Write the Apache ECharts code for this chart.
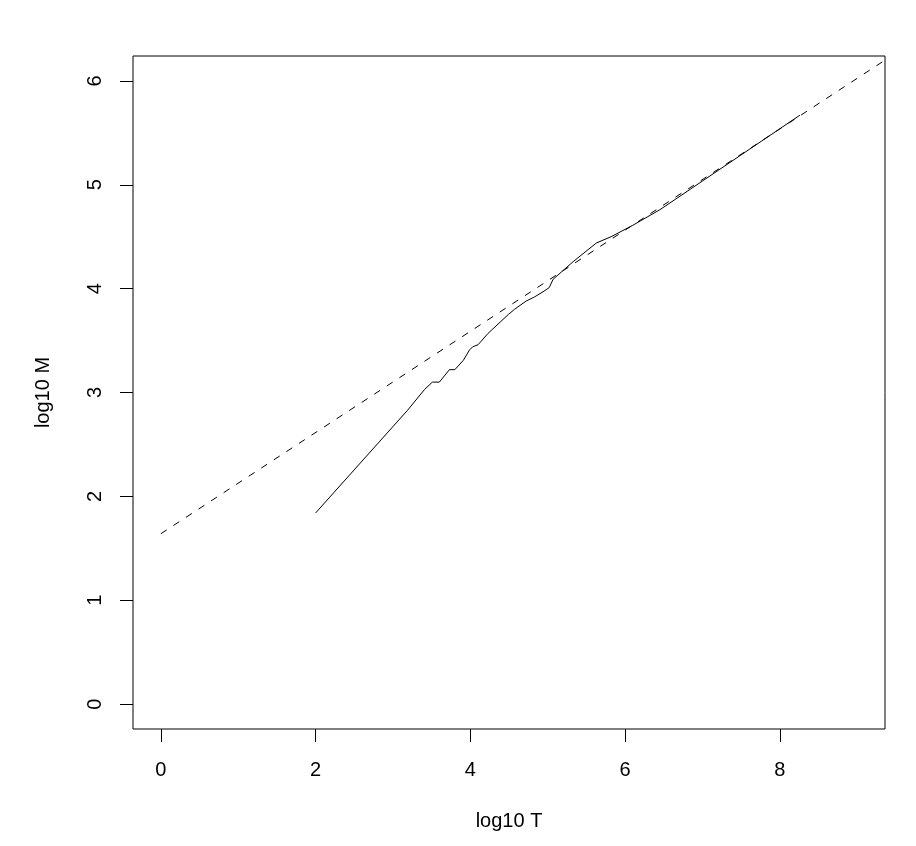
<!DOCTYPE html>
<html>
<head>
<meta charset="utf-8">
<script src="https://cdn.jsdelivr.net/npm/echarts@6/dist/echarts.min.js"></script>
<style>html,body{margin:0;padding:0;background:#fff;}#c{width:916px;height:846px;}</style>
</head>
<body>
<div id="c"></div>
<script>
// Observed curve: log10 T vs log10 M
var logT = [2.0, 3.19, 3.41, 3.51, 3.60, 3.73, 3.80, 3.91, 3.99, 4.03, 4.10, 4.23, 4.49, 4.57, 4.72, 4.83, 4.94, 5.02, 5.07, 5.33, 5.63, 5.82, 6.10, 6.45, 6.71, 8.26];
var logM = [1.84, 2.83, 3.03, 3.10, 3.10, 3.22, 3.22, 3.31, 3.41, 3.44, 3.46, 3.57, 3.75, 3.80, 3.88, 3.92, 3.97, 4.01, 4.09, 4.26, 4.44, 4.50, 4.61, 4.76, 4.89, 5.67];
// Reference (dashed) line endpoints
var refT = [0, 9.36];
var refM = [1.64, 6.20];
// Tick labels
var xTicks = [0, 2, 4, 6, 8];
var yTicks = [0, 1, 2, 3, 4, 5, 6];

var font = 'Liberation Sans, Arial, sans-serif';
var fs = 20;
var chart = echarts.init(document.getElementById('c'), null, {renderer: 'canvas'});
chart.setOption({
  animation: false,
  backgroundColor: '#fff',
  grid: {left: 133, top: 56, width: 752, height: 673, show: true, borderColor: '#000', borderWidth: 1, backgroundColor: 'transparent'},
  xAxis: {
    type: 'value', min: -0.36, max: 9.36,
    name: 'log10 T', nameLocation: 'middle', nameGap: 82,
    nameTextStyle: {color: '#000', fontFamily: font, fontSize: fs},
    axisLine: {show: false, onZero: false},
    splitLine: {show: false},
    axisTick: {show: true, inside: false, length: 13, customValues: xTicks, lineStyle: {color: '#000', width: 1}},
    axisLabel: {customValues: xTicks, margin: 31, color: '#000', fontFamily: font, fontSize: fs}
  },
  yAxis: {
    type: 'value', min: -0.24, max: 6.24,
    name: 'log10 M', nameLocation: 'middle', nameGap: 80,
    nameTextStyle: {color: '#000', fontFamily: font, fontSize: fs},
    axisLine: {show: false, onZero: false},
    splitLine: {show: false},
    axisTick: {show: true, inside: false, length: 13, customValues: yTicks, lineStyle: {color: '#000', width: 1}},
    axisLabel: {customValues: yTicks, margin: 28, rotate: 90, color: '#000', fontFamily: font, fontSize: fs}
  },
  series: [
    {
      type: 'line', symbol: 'none', clip: true,
      data: logT.map(function (t, i) { return [t, logM[i]]; }),
      lineStyle: {color: '#000', width: 1}
    },
    {
      type: 'line', symbol: 'none', clip: true,
      data: refT.map(function (t, i) { return [t, refM[i]]; }),
      lineStyle: {color: '#000', width: 1, type: [7, 8]}
    }
  ]
});
</script>
</body>
</html>
